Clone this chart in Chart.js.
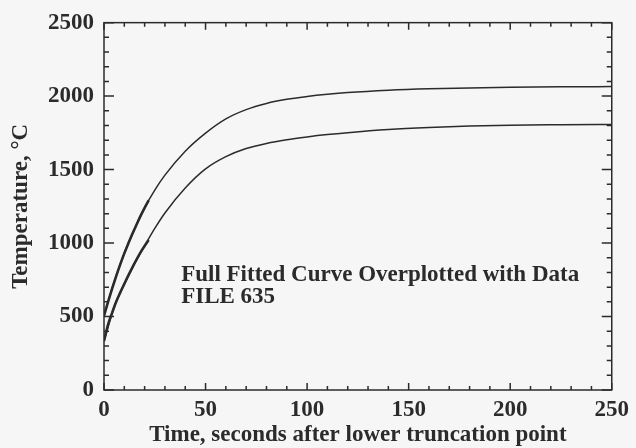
<!DOCTYPE html>
<html>
<head>
<meta charset="utf-8">
<script src="https://cdn.jsdelivr.net/npm/chart.js@4/dist/chart.umd.min.js"></script>
<style>
  html, body { margin: 0; padding: 0; background: #f6f6f6; }
  #wrap { width: 636px; height: 448px; position: relative; }
</style>
</head>
<body>
<div id="wrap"><canvas id="tempChart"></canvas></div>
<script>
// fitted curves
const TIME = [0, 5, 10, 15, 20, 25, 30, 40, 50, 60, 70, 80, 90, 100, 110, 120, 140, 160, 180, 200, 225, 250];
const UPPER_FIT = [510, 735, 930, 1095, 1240, 1360, 1462, 1625, 1748, 1845, 1908, 1950, 1978, 1997, 2012, 2024, 2040, 2050, 2056, 2060, 2063, 2065];
const LOWER_FIT = [330, 565, 720, 860, 982, 1100, 1205, 1375, 1505, 1588, 1643, 1678, 1703, 1722, 1738, 1751, 1772, 1786, 1796, 1802, 1805, 1807];

// measured data overplotted at the start
const DATA_TIME = [0, 2, 4, 6, 8, 10, 12, 14, 16, 18, 20, 22];
const UPPER_DATA = [505, 600, 690, 775, 855, 930, 998, 1063, 1125, 1185, 1240, 1290];
const LOWER_DATA = [335, 445, 525, 600, 663, 722, 780, 835, 887, 937, 980, 1020];

const X_TICKS = [0, 50, 100, 150, 200, 250];
const Y_TICKS = [0, 500, 1000, 1500, 2000, 2500];
const NOTE = ["Full Fitted Curve Overplotted with Data", "FILE 635"];

const INK = "#2b2b2b";
const serif = '"Liberation Serif", "Times New Roman", serif';
const font = { family: serif, size: 23, weight: "bold", lineHeight: 1.1 };

const pts = (xs, ys) => xs.map((x, i) => ({ x: x, y: ys[i] }));

// box round the plot, inward ticks on all four sides, and the note
const frame = {
  id: "frame",
  afterDatasetsDraw(chart) {
    const { ctx, chartArea: a, scales: { x, y } } = chart;
    ctx.save();
    ctx.strokeStyle = INK;
    ctx.lineWidth = 1.5;
    ctx.strokeRect(a.left, a.top, a.right - a.left, a.bottom - a.top);
    ctx.beginPath();
    for (let v = x.min; v <= x.max; v += 10) {
      const px = x.getPixelForValue(v);
      const len = v % 50 === 0 ? 7 : 4;
      ctx.moveTo(px, a.bottom); ctx.lineTo(px, a.bottom - len);
      ctx.moveTo(px, a.top); ctx.lineTo(px, a.top + len);
    }
    for (let v = y.min; v <= y.max; v += 100) {
      const py = y.getPixelForValue(v);
      const len = v % 500 === 0 ? 10 : 5;
      ctx.moveTo(a.left, py); ctx.lineTo(a.left + len, py);
      ctx.moveTo(a.right, py); ctx.lineTo(a.right - len, py);
    }
    ctx.stroke();

    ctx.fillStyle = INK;
    ctx.font = "bold 23px " + serif;
    ctx.textAlign = "left";
    ctx.textBaseline = "alphabetic";
    const nx = x.getPixelForValue(38);
    ctx.fillText(NOTE[0], nx, y.getPixelForValue(745));
    ctx.fillText(NOTE[1], nx, y.getPixelForValue(594));
    ctx.restore();
  }
};

const line = (data, width) => ({
  data: data,
  borderColor: INK,
  borderWidth: width,
  pointRadius: 0,
  cubicInterpolationMode: "monotone",
  fill: false
});

new Chart(document.getElementById("tempChart"), {
  type: "line",
  data: {
    datasets: [
      line(pts(TIME, UPPER_FIT), 1.5),
      line(pts(TIME, LOWER_FIT), 1.5),
      line(pts(DATA_TIME, UPPER_DATA), 2.6),
      line(pts(DATA_TIME, LOWER_DATA), 2.6)
    ]
  },
  options: {
    responsive: true,
    maintainAspectRatio: false,
    animation: false,
    layout: { padding: { left: 0, right: 18, top: 11, bottom: 0 } },
    plugins: { legend: { display: false }, tooltip: { enabled: false } },
    scales: {
      x: {
        type: "linear",
        min: 0,
        max: 250,
        afterBuildTicks: (s) => { s.ticks = X_TICKS.map((v) => ({ value: v })); },
        afterFit: (s) => { s.height = 58; },
        grid: { display: false, drawTicks: false },
        border: { display: false },
        ticks: { color: INK, font: font, padding: 7, maxRotation: 0, callback: (v) => String(v) },
        title: { display: true, text: "Time, seconds after lower truncation point", color: INK, font: font, padding: 0 }
      },
      y: {
        min: 0,
        max: 2500,
        afterBuildTicks: (s) => { s.ticks = Y_TICKS.map((v) => ({ value: v })); },
        afterFit: (s) => { s.width = 104; },
        grid: { display: false, drawTicks: false },
        border: { display: false },
        ticks: { color: INK, font: font, padding: 10, callback: (v) => String(v) },
        title: { display: true, text: "Temperature, \u00B0C", color: INK, font: font, padding: { top: 8, bottom: 0 } }
      }
    }
  },
  plugins: [frame]
});
</script>
</body>
</html>
